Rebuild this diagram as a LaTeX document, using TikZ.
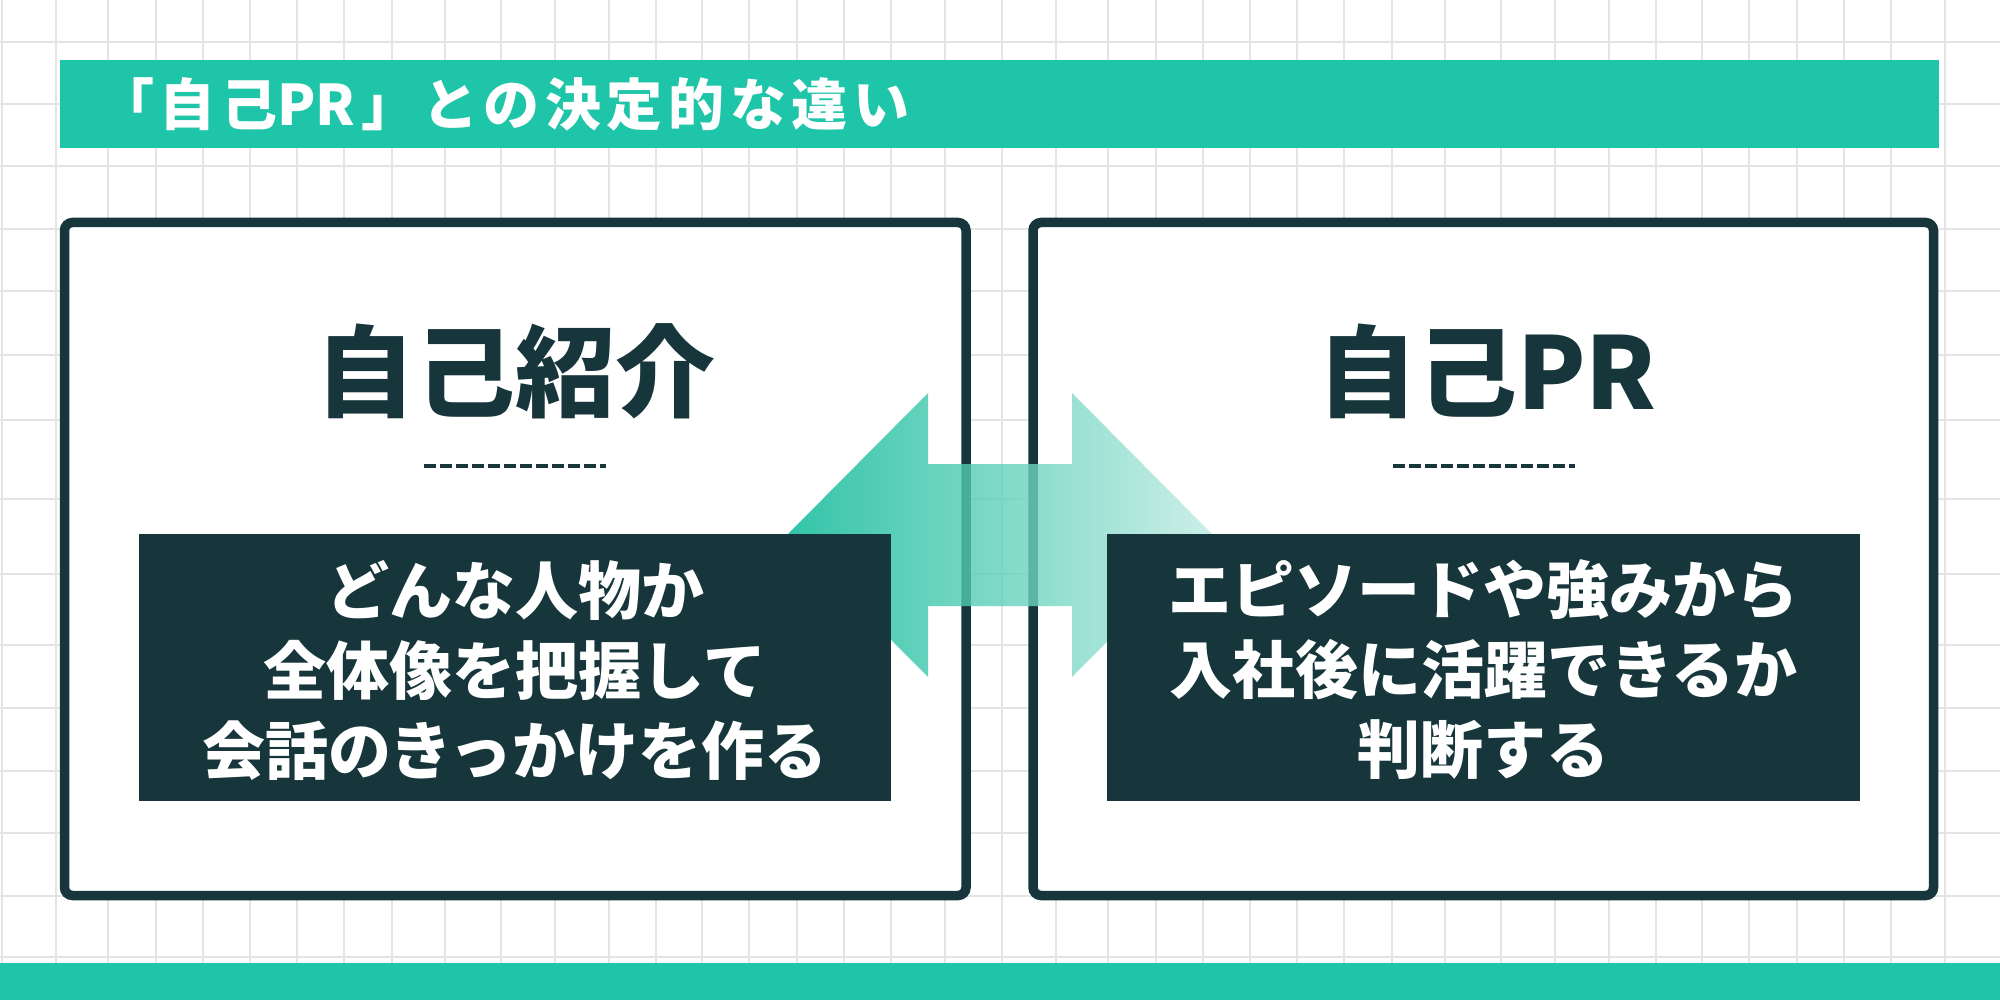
\documentclass[tikz,border=0pt]{standalone}
\usepackage{fontspec}
\newfontfamily\jp{Noto Sans CJK JP}
\newfontfamily\jphdr{Noto Sans CJK JP}[LetterSpace=10]
\definecolor{tealmain}{HTML}{1FC5A8}
\definecolor{darkmain}{HTML}{17363B}
\definecolor{gridgray}{HTML}{E4E4E4}
\definecolor{arrowL}{RGB}{0,182,146}
\definecolor{arrowR}{RGB}{192,235,227}
\tikzset{
  gridline/.style={draw=gridgray, line width=2pt},
  card/.style={draw=darkmain, fill=white, line width=9.5pt, rounded corners=8pt, inner sep=0pt},
  darkbox/.style={fill=darkmain, inner sep=0pt},
  band/.style={fill=tealmain, inner sep=0pt},
  cardtitle/.style={text=darkmain, inner sep=0pt, font=\jp\bfseries\fontsize{100}{110}\selectfont},
  boxtext/.style={text=white, inner sep=0pt, align=center, font=\jp\bfseries\fontsize{63}{80}\selectfont},
  dashline/.style={draw=darkmain, line width=4pt, dash pattern=on 12pt off 4pt},
}
\begin{document}
\begin{tikzpicture}[x=1pt,y=-1pt]
\useasboundingbox (0,0) rectangle (2000,1000);
\fill[white] (0,0) rectangle (2000,1000);
% grid
\foreach \gx in {2,56,108,156,203,250,297,344,392,445,501,555,609,656,702,749,797,844,891,945}{
  \draw[gridline] (\gx,0) -- (\gx,1000);
  \draw[gridline] (\gx+1000,0) -- (\gx+1000,1000);
}
\foreach \gy in {42,104,166,229,291,355,420,499,574,645,708,771,833,896,957}{
  \draw[gridline] (0,\gy) -- (2000,\gy);
}
% header band
\node[band, minimum width=1879pt, minimum height=88pt] (header) at (999.5,104) {};
\node[anchor=west, inner sep=0pt, text=white, font=\jphdr\bfseries\fontsize{56}{64}\selectfont] (htitle) at (98,104) {「自己{\jp\bfseries P}R」との決定的な違い};
% bottom band
\fill[tealmain] (0,963) rectangle (2000,1000);
% cards
\node[card, minimum width=901.5pt, minimum height=673pt] (lcard) at (515.25,559) {};
\node[card, minimum width=900.5pt, minimum height=673pt] (rcard) at (1483.25,559) {};
% arrow
\shade[left color=arrowL, right color=arrowR, fill opacity=0.8]
  (787,535) -- (928,393) -- (928,464) -- (1072,464) -- (1072,393) -- (1213,535)
  -- (1072,677) -- (1072,606) -- (928,606) -- (928,677) -- cycle;
% titles
\node[cardtitle] (ltitle) at (515,371) {自己紹介};
\node[cardtitle] (rtitle) at (1487,371) {自己PR};
% dashed separators
\coordinate (ldA) at (424,466); \coordinate (ldB) at (606,466);
\coordinate (rdA) at (1393,466); \coordinate (rdB) at (1575,466);
\draw[dashline] (ldA) -- (ldB);
\draw[dashline] (rdA) -- (rdB);
% dark boxes
\node[darkbox, minimum width=752pt, minimum height=267pt] (lbox) at (515,667.5) {};
\node[darkbox, minimum width=753pt, minimum height=267pt] (rbox) at (1483.5,667.5) {};
\node[boxtext] (ltext) at (515,670) {どんな人物か\\全体像を把握して\\会話のきっかけを作る};
\node[boxtext] (rtext) at (1483.5,670) {エピソードや強みから\\入社後に活躍できるか\\判断する};
\end{tikzpicture}
\end{document}
